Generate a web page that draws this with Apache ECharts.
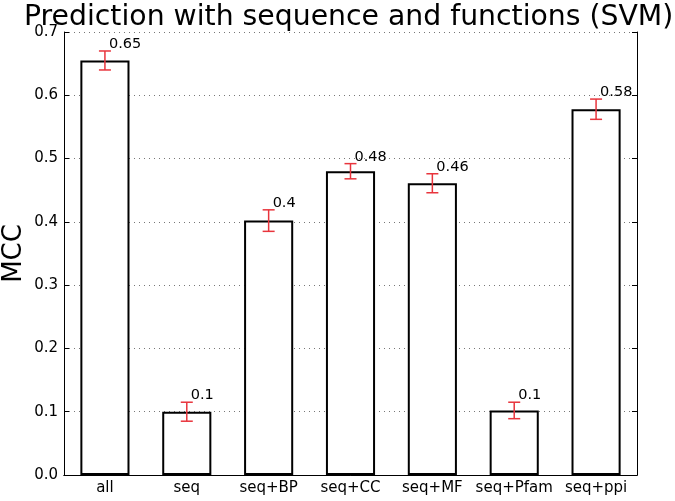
<!DOCTYPE html>
<html>
<head>
<meta charset="utf-8">
<script src="https://cdn.jsdelivr.net/npm/echarts@6/dist/echarts.min.js"></script>
<style>
  html, body { margin: 0; padding: 0; background: #fff; }
  #chart { width: 675px; height: 501px; }
</style>
</head>
<body>
<div id="chart"></div>
<script>
// data
const categories = ['all', 'seq', 'seq+BP', 'seq+CC', 'seq+MF', 'seq+Pfam', 'seq+ppi'];
const mccValues = [0.655, 0.100, 0.402, 0.480, 0.461, 0.102, 0.578];
const mccErrors = [0.015, 0.015, 0.017, 0.012, 0.015, 0.013, 0.016];
const valueLabels = ['0.65', '0.1', '0.4', '0.48', '0.46', '0.1', '0.58'];

const chart = echarts.init(document.getElementById('chart'));

const errData = mccValues.map((v, i) => [i, v, mccErrors[i], valueLabels[i]]);

chart.setOption({
  animation: false,
  textStyle: { fontFamily: 'DejaVu Sans' },
  title: {
    text: 'Prediction with sequence and functions (SVM)',
    left: 19,
    top: -1,
    textStyle: { fontSize: 28.3, fontWeight: 'normal', color: '#000', fontFamily: 'DejaVu Sans' }
  },
  grid: { left: 64, right: 38, top: 32, bottom: 26, containLabel: false, outerBoundsMode: 'none' },
  xAxis: [
    {
      type: 'category',
      data: categories,
      axisLine: { lineStyle: { color: '#000', width: 1 } },
      axisTick: { inside: true, alignWithLabel: true, length: 5, lineStyle: { color: '#000' } },
      axisLabel: { color: '#000', fontSize: 15, margin: 6, interval: 0 }
    },
    {
      type: 'category',
      data: categories,
      position: 'top',
      axisLine: { lineStyle: { color: '#000', width: 1 } },
      axisTick: { inside: true, alignWithLabel: true, length: 5, lineStyle: { color: '#000' } },
      axisLabel: { show: false }
    }
  ],
  yAxis: [
    {
      type: 'value',
      min: 0, max: 0.7, interval: 0.1,
      name: 'MCC',
      nameLocation: 'middle',
      nameGap: 37,
      nameMoveOverlap: false,
      nameTextStyle: { fontSize: 26, color: '#000' },
      axisLine: { show: true, lineStyle: { color: '#000', width: 1 } },
      axisTick: { show: true, inside: true, length: 5, lineStyle: { color: '#000' } },
      axisLabel: { color: '#000', fontSize: 15, margin: 6, formatter: v => v.toFixed(1) },
      splitLine: { show: true, lineStyle: { color: '#777', type: [1, 4], width: 1 } }
    },
    {
      type: 'value',
      min: 0, max: 0.7, interval: 0.1,
      position: 'right',
      axisLine: { show: true, lineStyle: { color: '#000', width: 1 } },
      axisTick: { show: true, inside: true, length: 5, lineStyle: { color: '#000' } },
      axisLabel: { show: false },
      splitLine: { show: false }
    }
  ],
  series: [
    {
      type: 'bar',
      data: mccValues,
      barWidth: '60%',
      itemStyle: { color: '#fff', borderColor: '#000', borderWidth: 2 }
    },
    {
      type: 'custom',
      data: errData,
      z: 5,
      renderItem: function (params, api) {
        const i = api.value(0);
        const v = api.value(1);
        const e = api.value(2);
        const hi = api.coord([i, v + e]);
        const lo = api.coord([i, v - e]);
        const cap = 6;
        const red = { stroke: '#e8343c', lineWidth: 1.5 };
        return {
          type: 'group',
          children: [
            { type: 'line', shape: { x1: hi[0], y1: hi[1], x2: lo[0], y2: lo[1] }, style: red },
            { type: 'line', shape: { x1: hi[0] - cap, y1: hi[1], x2: hi[0] + cap, y2: hi[1] }, style: red },
            { type: 'line', shape: { x1: lo[0] - cap, y1: lo[1], x2: lo[0] + cap, y2: lo[1] }, style: red },
            {
              type: 'text',
              style: {
                text: api.value(3),
                x: hi[0] + 4,
                y: hi[1] + 1,
                textAlign: 'left',
                textVerticalAlign: 'bottom',
                fill: '#000',
                fontSize: 14.5,
                fontFamily: 'DejaVu Sans'
              }
            }
          ]
        };
      }
    }
  ]
});
</script>
</body>
</html>
